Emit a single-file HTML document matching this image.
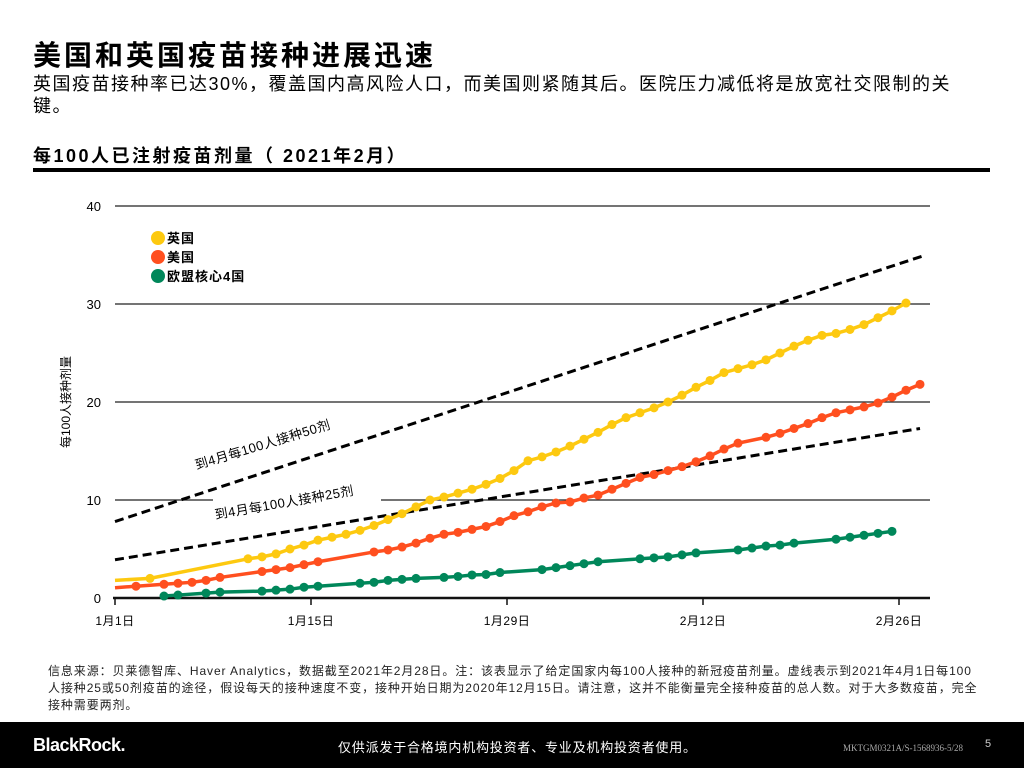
<!DOCTYPE html>
<html><head><meta charset="utf-8">
<style>
body{margin:0;width:1024px;height:768px;position:relative;background:#fff;font-family:"Liberation Sans","Noto Sans CJK SC",sans-serif;color:#000;overflow:hidden}
.abs{position:absolute;white-space:nowrap}
</style></head><body>
<div class="abs" style="left:33px;top:34px;font-size:28px;font-weight:bold;letter-spacing:3px">美国和英国疫苗接种进展迅速</div>
<div class="abs" style="left:33px;top:73px;font-size:18px;line-height:22px;white-space:normal;width:945px;letter-spacing:1.5px">英国疫苗接种率已达30%，覆盖国内高风险人口，而美国则紧随其后。医院压力减低将是放宽社交限制的关键。</div>
<div class="abs" style="left:33px;top:142px;font-size:18px;font-weight:bold;letter-spacing:2.5px">每100人已注射疫苗剂量（ 2021年2月）</div>
<div class="abs" style="left:33px;top:168px;width:957px;height:4px;background:#000"></div>
<svg class="abs" style="left:0;top:0" width="1024" height="720" id="chart"></svg>
<div class="abs" style="left:48px;top:663px;font-size:12px;line-height:17px;white-space:normal;width:930px;color:#222;letter-spacing:0.9px">信息来源：贝莱德智库、Haver Analytics，数据截至2021年2月28日。注：该表显示了给定国家内每100人接种的新冠疫苗剂量。虚线表示到2021年4月1日每100人接种25或50剂疫苗的途径，假设每天的接种速度不变，接种开始日期为2020年12月15日。请注意，这并不能衡量完全接种疫苗的总人数。对于大多数疫苗，完全接种需要两剂。</div>
<div class="abs" style="left:0;top:722px;width:1024px;height:46px;background:#000"></div>
<div class="abs" style="left:33px;top:735px;font-size:18px;font-weight:bold;color:#fff;letter-spacing:-0.5px">BlackRock.</div>
<div class="abs" style="left:338px;top:737px;font-size:13px;color:#fff;letter-spacing:0.8px">仅供派发于合格境内机构投资者、专业及机构投资者使用。</div>
<div class="abs" style="left:843px;top:743px;font-size:9px;color:#aaa;font-family:'Liberation Serif',serif">MKTGM0321A/S-1568936-5/28</div>
<div class="abs" style="left:985px;top:738px;font-size:11px;color:#ccc">5</div>
<script>
const yTicks=[0,10,20,30,40];
const xTickDays=[0,14,28,42,56];
const xTickLabels=["1月1日","1月15日","1月29日","2月12日","2月26日"];
const ukDays=[-0.5,2,9,10,11,12,13,14,15,16,17,18,19,20,21,22,23,24,25,26,27,28,29,30,31,32,33,34,35,36,37,38,39,40,41,42,43,44,45,46,47,48,49,50,51,52,53,54,55,56];
const ukVals=[1.8,2.0,4.0,4.2,4.5,5.0,5.4,5.9,6.2,6.5,6.9,7.4,8.0,8.6,9.3,10.0,10.3,10.7,11.1,11.6,12.2,13.0,14.0,14.4,14.9,15.5,16.2,16.9,17.7,18.4,18.9,19.4,20.0,20.7,21.5,22.2,23.0,23.4,23.8,24.3,25.0,25.7,26.3,26.8,27.0,27.4,27.9,28.6,29.3,30.1];
const usDays=[-0.5,1,3,4,5,6,7,10,11,12,13,14,18,19,20,21,22,23,24,25,26,27,28,29,30,31,32,33,34,35,36,37,38,39,40,41,42,43,44,46,47,48,49,50,51,52,53,54,55,56,57];
const usVals=[1.05,1.2,1.4,1.5,1.6,1.8,2.1,2.7,2.9,3.1,3.4,3.7,4.7,4.9,5.2,5.6,6.1,6.5,6.7,7.0,7.3,7.8,8.4,8.8,9.3,9.7,9.8,10.2,10.5,11.1,11.7,12.3,12.6,13.0,13.4,13.9,14.5,15.2,15.8,16.4,16.8,17.3,17.8,18.4,18.9,19.2,19.5,19.9,20.5,21.2,21.8];
const euDays=[3,4,6,7,10,11,12,13,14,17,18,19,20,21,23,24,25,26,27,30,31,32,33,34,37,38,39,40,41,44,45,46,47,48,51,52,53,54,55];
const euVals=[0.2,0.3,0.5,0.6,0.7,0.8,0.9,1.1,1.2,1.5,1.6,1.8,1.9,2.0,2.1,2.2,2.35,2.4,2.6,2.9,3.1,3.3,3.5,3.7,4.0,4.1,4.2,4.4,4.6,4.9,5.1,5.3,5.4,5.6,6.0,6.2,6.4,6.6,6.8];
const path50Days=[-0.5,57.2];
const path50Vals=[7.8,34.9];
const path25Days=[-0.5,57];
const path25Vals=[3.9,17.3];
const NS="http://www.w3.org/2000/svg";
const svg=document.getElementById('chart');
const X=d=>122+14*d, Y=v=>598-9.8*v;
function mk(t,a){const e=document.createElementNS(NS,t);for(const k in a)e.setAttribute(k,a[k]);svg.appendChild(e);return e;}
yTicks.forEach(v=>{
  if(v>0){const g=mk('line',{x1:115,x2:930,y1:Y(v),y2:Y(v),stroke:'#222','stroke-width':1.3});
  
  }
  const t=mk('text',{x:101,y:Y(v)+5,'text-anchor':'end','font-size':13});t.textContent=v;
  
  
});
const ax=mk('line',{x1:113,x2:930,y1:598,y2:598,stroke:'#111','stroke-width':2.5});


xTickDays.forEach((d,i)=>{
  const tk=mk('line',{x1:X(d)-7,x2:X(d)-7,y1:598,y2:605,stroke:'#111','stroke-width':1.5});
  
  
  const t=mk('text',{x:X(d)-7,y:625,'text-anchor':'middle','font-size':12,'letter-spacing':'0.5'});t.textContent=xTickLabels[i];
  
  
});
const yt=mk('text',{transform:'translate(70,402) rotate(-90)','text-anchor':'middle','font-size':12});yt.textContent='每100人接种剂量';


const bg=mk('rect',{x:213,y:493,width:168,height:14,fill:'#fff'});


function dash(days,vals,name){const l=mk('line',{x1:X(days[0]),y1:Y(vals[0]),x2:X(days[1]),y2:Y(vals[1]),stroke:'#000','stroke-width':3,'stroke-dasharray':'9,5'});

}
dash(path50Days,path50Vals,'path-50-doses');
dash(path25Days,path25Vals,'path-25-doses');
const l50=mk('text',{transform:'translate(264,449) rotate(-17)','text-anchor':'middle','font-size':13,'letter-spacing':'0.5'});l50.textContent='到4月每100人接种50剂';


const l25=mk('text',{transform:'translate(285,507) rotate(-10)','text-anchor':'middle','font-size':13,'letter-spacing':'0.5'});l25.textContent='到4月每100人接种25剂';


function series(days,vals,color,name,startNoMarker){
  const pl=mk('polyline',{points:days.map((d,i)=>X(d)+','+Y(vals[i])).join(' '),fill:'none',stroke:color,'stroke-width':3.5});
  
  
  days.forEach((d,i)=>{if(startNoMarker&&i===0)return;
    const c=mk('circle',{cx:X(d),cy:Y(vals[i]),r:4.5,fill:color});
    
    });
}
series(ukDays,ukVals,'#fdc910','uk',true);
series(usDays,usVals,'#ff4f1f','us',true);
series(euDays,euVals,'#00875a','eu',false);
const lg=[['英国','#fdc910'],['美国','#ff4f1f'],['欧盟核心4国','#00875a']];
lg.forEach((e,i)=>{
  const c=mk('circle',{cx:158,cy:238+i*19,r:7,fill:e[1]});
  
  
  const t=mk('text',{x:167,y:243+i*19,'font-size':13,'font-weight':'bold','letter-spacing':'1'});t.textContent=e[0];
  
  
});
</script>
</body></html>
